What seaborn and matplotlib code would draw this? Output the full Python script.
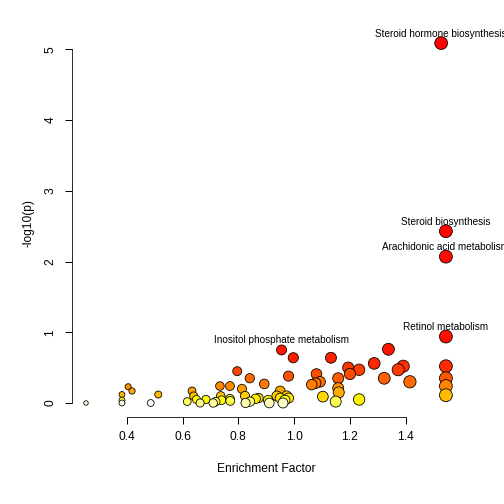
import numpy as np
import pandas as pd
import matplotlib
matplotlib.use("Agg")
import matplotlib.pyplot as plt
from matplotlib.colors import ListedColormap, hsv_to_rgb
import seaborn as sns

# ---- data ----
enrichment = [1.527, 1.544, 1.544, 1.544, 1.544, 1.544, 1.544, 1.544,
              0.955, 0.997, 1.132, 1.338, 1.287, 1.391, 1.373, 1.233,
              1.194, 1.200, 1.080, 0.980, 1.158, 1.323, 1.415, 1.093,
              1.077, 1.063, 1.158, 1.160, 1.103, 1.149, 1.233, 0.796,
              0.841, 0.893, 0.734, 0.770, 0.813, 0.634, 0.950, 0.640,
              0.737, 0.824, 0.938, 0.973, 0.617, 0.650, 0.663, 0.684,
              0.710, 0.719, 0.740, 0.771, 0.826, 0.842, 0.862, 0.872,
              0.907, 0.911, 0.950, 0.960, 0.967, 0.980, 0.254, 0.383,
              0.383, 0.383, 0.405, 0.419, 0.486, 0.513, 0.770]
neglogp = [5.09, 2.43, 2.07, 0.94, 0.52, 0.35, 0.24, 0.11,
           0.75, 0.64, 0.64, 0.76, 0.56, 0.52, 0.47, 0.47,
           0.50, 0.41, 0.41, 0.38, 0.35, 0.35, 0.30, 0.30,
           0.28, 0.26, 0.21, 0.15, 0.09, 0.02, 0.05, 0.45,
           0.35, 0.27, 0.24, 0.24, 0.20, 0.17, 0.17, 0.10,
           0.10, 0.10, 0.10, 0.10, 0.02, 0.05, 0.00, 0.05,
           0.00, 0.02, 0.04, 0.03, 0.00, 0.02, 0.06, 0.07,
           0.04, 0.00, 0.07, 0.00, 0.04, 0.07, 0.00, 0.12,
           0.04, 0.00, 0.23, 0.17, 0.00, 0.12, 0.06]
label_names = ["Steroid hormone biosynthesis", "Steroid biosynthesis",
               "Arachidonic acid metabolism", "Retinol metabolism",
               "Inositol phosphate metabolism"]
label_idx = [0, 1, 2, 3, 8]
x_ticks = [0.4, 0.6, 0.8, 1.0, 1.2, 1.4]
y_ticks = [0, 1, 2, 3, 4, 5]

# ---- R heat.colors ----
def heat_colors(n):
    j = n // 4
    i = n - j
    cols = [hsv_to_rgb((h, 1, 1)) for h in np.linspace(0, 1 / 6, i)]
    if j > 0:
        for s in np.linspace(1 - 1 / (2 * j), 1 / (2 * j), j):
            cols.append(hsv_to_rgb((1 / 6, s, 1)))
    return cols

df = pd.DataFrame({"x": enrichment, "y": neglogp})
df["rank"] = df["y"].rank(ascending=False, method="first") - 1
df = df.sort_values("rank")
n = len(df)
cmap = ListedColormap(heat_colors(n))

plt.rcParams["font.family"] = ["Liberation Sans", "DejaVu Sans"]
fig = plt.figure(figsize=(7, 7), dpi=72)
W = H = 504.0
left, right, top, bottom = 71.6, 460.3, 28.7, 417.4
ax = fig.add_axes([left / W, 1 - bottom / H, (right - left) / W, (bottom - top) / H])

sns.scatterplot(data=df, x="x", y="y", hue="rank", palette=cmap,
                hue_norm=(0, n - 1), size="x", sizes=(20, 165),
                size_norm=(0.254, 1.544), edgecolor="black", linewidth=0.8,
                legend=False, ax=ax, clip_on=False, alpha=1)

xr = max(enrichment) - min(enrichment)
yr = max(neglogp) - min(neglogp)
ax.set_xlim(min(enrichment) - 0.04 * xr, max(enrichment) + 0.04 * xr)
ax.set_ylim(min(neglogp) - 0.04 * yr, max(neglogp) + 0.04 * yr)

for k, name in zip(label_idx, label_names):
    ax.annotate(name, (enrichment[k], neglogp[k]), xytext=(0, 6.5),
                textcoords="offset points", ha="center", va="baseline",
                fontsize=10, annotation_clip=False)

for s in ["top", "right"]:
    ax.spines[s].set_visible(False)
ax.spines["bottom"].set_bounds(0.4, 1.4)
ax.spines["left"].set_bounds(0, 5)
ax.set_xticks(x_ticks)
ax.set_xticklabels([f"{t:.1f}" for t in x_ticks])
ax.set_yticks(y_ticks)
ax.set_yticklabels([str(t) for t in y_ticks], rotation=90, va="center")
ax.tick_params(axis="both", direction="out", length=7, width=1, labelsize=12)
ax.tick_params(axis="x", pad=7)
ax.tick_params(axis="y", pad=8)
ax.set_xlabel("Enrichment Factor", fontsize=12, labelpad=20)
ax.set_ylabel("-log10(p)", fontsize=12, labelpad=10)
ax.set_facecolor("white")
fig.patch.set_facecolor("white")
fig.savefig("out.png", dpi=72)
